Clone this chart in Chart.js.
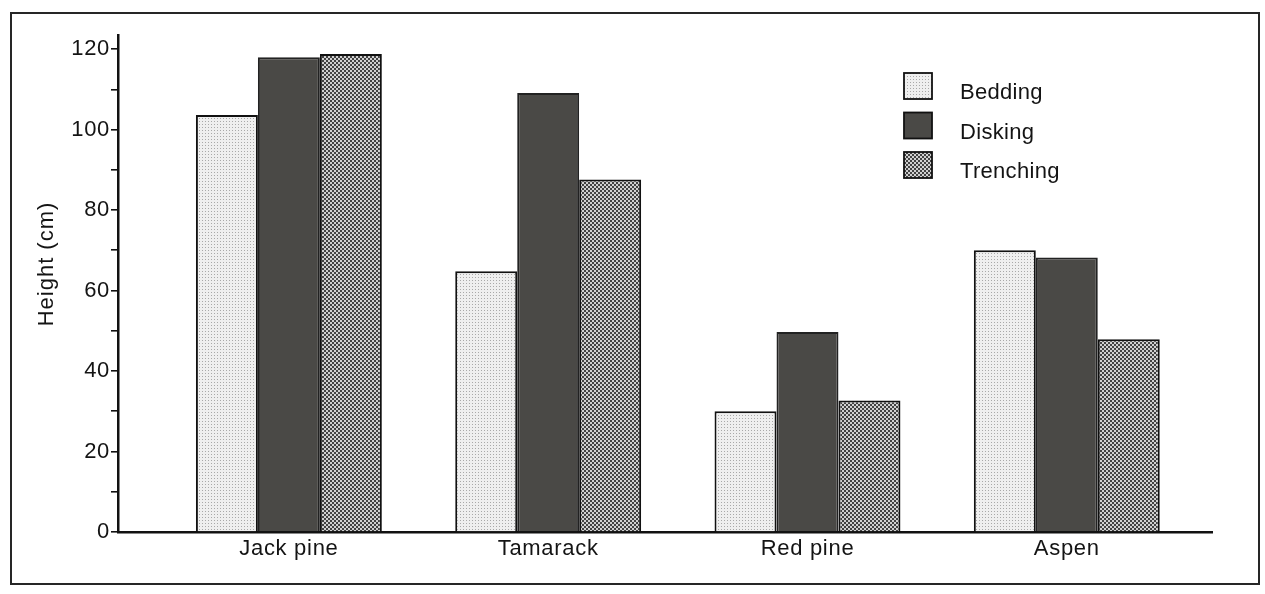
<!DOCTYPE html>
<html>
<head>
<meta charset="utf-8">
<title>Height by site preparation</title>
<script src="https://cdn.jsdelivr.net/npm/chart.js@4"></script>
<style>
  html, body { margin: 0; padding: 0; background: #fff; }
  #wrap { position: relative; width: 1265px; height: 594px; }
  #frame {
    position: absolute; left: 10px; top: 12px; width: 1250px; height: 573px;
    border: 2px solid #262626; box-sizing: border-box;
  }
  #chart { position: absolute; left: 0; top: 0; }
</style>
</head>
<body>
<div id="wrap">
  <div id="frame"></div>
  <canvas id="chart" width="1265" height="594"></canvas>
</div>
<script>
// species groups along the x axis
const SPECIES = ['Jack pine', 'Tamarack', 'Red pine', 'Aspen'];

// mean height (cm) per treatment
const BEDDING = [103.6, 64.8, 30.0, 70.0];
const DISKING = [118.0, 109.1, 49.7, 68.2];
const TRENCHING = [118.8, 87.6, 32.7, 47.9];

const Y_LABEL = 'Height (cm)';
const FONT = '"Liberation Sans", Arial, Helvetica, sans-serif';
const INK = '#141414';

Chart.defaults.font.family = FONT;
Chart.defaults.font.size = 22;
Chart.defaults.color = INK;

// small tiled fills that mimic the screened print
function makePattern(size, bg, cells, cellColour, cellSize) {
  const c = document.createElement('canvas');
  c.width = size;
  c.height = size;
  const g = c.getContext('2d');
  g.fillStyle = bg;
  g.fillRect(0, 0, size, size);
  g.fillStyle = cellColour;
  cells.forEach(([x, y]) => g.fillRect(x, y, cellSize, cellSize));
  return g.createPattern(c, 'repeat');
}

const ctx = document.getElementById('chart').getContext('2d');
const beddingFill = makePattern(3, '#efefef', [[1, 1]], '#a9a9a9', 1);
const diskingFill = '#4a4946';
const trenchingFill = makePattern(4, '#424242', [[0, 0], [2, 2]], '#d0d0d0', 2);

function toPoints(values) {
  return values.map((v, i) => ({ x: i, y: v }));
}

// slightly wider letter spacing for all canvas text
const spacing = {
  id: 'spacing',
  beforeDraw(chart) { chart.ctx.letterSpacing = '0.7px'; }
};

// legend drawn inside the plot, boxes use the same fills as the bars
const insideLegend = {
  id: 'insideLegend',
  afterDraw(chart) {
    const c = chart.ctx;
    chart.data.datasets.forEach((ds, i) => {
      const y = 73 + i * 39.5;
      c.save();
      c.fillStyle = ds.backgroundColor;
      c.fillRect(904, y, 28, 26);
      c.lineWidth = 1.8;
      c.strokeStyle = '#111';
      c.strokeRect(904, y, 28, 26);
      c.fillStyle = INK;
      c.font = '22px ' + FONT;
      c.letterSpacing = '0.3px';
      c.textBaseline = 'middle';
      c.fillText(ds.label, 960, y + 20);
      c.restore();
    });
  }
};

// rotated y axis title
const yTitle = {
  id: 'yTitle',
  afterDraw(chart) {
    const c = chart.ctx;
    c.save();
    c.translate(47, 264);
    c.rotate(-Math.PI / 2);
    c.fillStyle = INK;
    c.font = '22px ' + FONT;
    c.letterSpacing = '1px';
    c.textAlign = 'center';
    c.textBaseline = 'middle';
    c.fillText(Y_LABEL, 0, 0);
    c.restore();
  }
};

new Chart(ctx, {
  type: 'bar',
  data: {
    datasets: [
      { label: 'Bedding', data: toPoints(BEDDING), backgroundColor: beddingFill, borderColor: '#111', borderWidth: 2 },
      { label: 'Disking', data: toPoints(DISKING), backgroundColor: diskingFill, borderColor: '#222', borderWidth: 2 },
      { label: 'Trenching', data: toPoints(TRENCHING), backgroundColor: trenchingFill, borderColor: '#111', borderWidth: 2 }
    ]
  },
  options: {
    responsive: false,
    animation: false,
    layout: { padding: { top: 35, right: 53, left: 0, bottom: 0 } },
    datasets: { bar: { barPercentage: 1, categoryPercentage: 0.717 } },
    plugins: {
      legend: { display: false },
      tooltip: { enabled: false }
    },
    scales: {
      x: {
        type: 'linear',
        min: -0.659,
        max: 3.56,
        offset: false,
        grid: { display: false, drawTicks: false, offset: false },
        border: { display: true, color: '#111', width: 2.5 },
        ticks: {
          autoSkip: false,
          padding: 4,
          color: INK,
          callback: v => SPECIES[v] ?? ''
        },
        afterBuildTicks: s => { s.ticks = SPECIES.map((_, i) => ({ value: i })); },
        afterFit: s => { s.height = 62; }
      },
      y: {
        min: 0,
        max: 123.5,
        grid: { drawOnChartArea: false, drawTicks: true, tickLength: 7, color: '#111', lineWidth: 1.6 },
        border: { display: true, color: '#111', width: 2.5 },
        ticks: {
          stepSize: 10,
          includeBounds: false,
          autoSkip: false,
          padding: 1,
          color: INK,
          callback: v => (v % 20 === 0 ? v : '')
        },
        afterFit: s => { s.width = 118; }
      }
    }
  },
  plugins: [spacing, insideLegend, yTitle]
});
</script>
</body>
</html>
